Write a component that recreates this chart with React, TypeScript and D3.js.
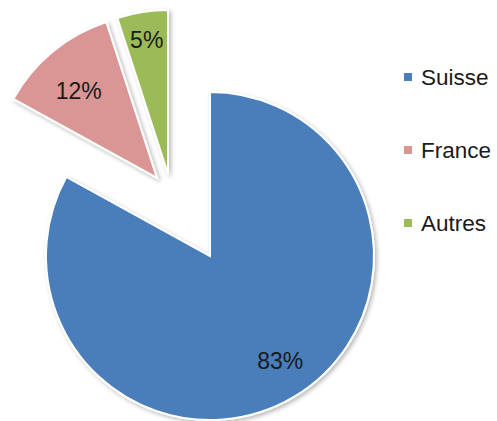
import React from "react";
import * as d3 from "d3";

const categories = ["Suisse", "France", "Autres"];
const values = [83, 12, 5];
const labels = ["83%", "12%", "5%"];
const colors = ["#4A7EBB", "#D99694", "#9BBB59"];
// per-slice translation of the slice tip (layout)
const sliceOrigins: [number, number][] = [
  [210, 256],
  [157, 178],
  [168, 174],
];
const labelRadius = [0.77, 0.71, 0.83];
const labelNudge: [number, number][] = [
  [6, -4],
  [-4, 3],
  [0, 0],
];

export default function App() {
  const W = 497;
  const H = 421;
  const R = 164;
  const pie = d3
    .pie<number>()
    .sort(null)
    .value((d) => d)
    .startAngle(0)
    .endAngle(2 * Math.PI);
  const arcs = pie(values);
  const arc = d3.arc<d3.PieArcDatum<number>>().innerRadius(0).outerRadius(R);

  const legendY = d3.scalePoint<string>().domain(categories).range([77, 223]);

  return (
    <svg
      width={W}
      height={H}
      style={{ position: "absolute", left: 0, top: 0, background: "#fff" }}
      fontFamily="'Liberation Sans', Arial, sans-serif"
    >
      <defs>
        <filter id="sh" x="-20%" y="-20%" width="140%" height="140%">
          <feDropShadow dx="2" dy="2" stdDeviation="2" floodColor="#000" floodOpacity="0.28" />
        </filter>
      </defs>
      {arcs.map((a, i) => {
        const [ox, oy] = sliceOrigins[i];
        const c = d3
          .arc<d3.PieArcDatum<number>>()
          .innerRadius(0)
          .outerRadius(R * labelRadius[i] * 2)
          .centroid(a);
        return (
          <g key={categories[i]} transform={`translate(${ox},${oy})`}>
            <path
              d={arc(a) || ""}
              fill={colors[i]}
              stroke="#fff"
              strokeWidth={2}
              strokeLinejoin="miter"
              filter="url(#sh)"
            />
            <text
              x={c[0] + labelNudge[i][0]}
              y={c[1] + labelNudge[i][1]}
              textAnchor="middle"
              dominantBaseline="central"
              fontSize={23}
              fill="#1a1a1a"
            >
              {labels[i]}
            </text>
          </g>
        );
      })}
      {categories.map((cat, i) => (
        <g key={cat} transform={`translate(404,${legendY(cat)})`}>
          <rect x={0} y={-4} width={8} height={8} fill={colors[i]} />
          <text x={17} y={0} dominantBaseline="central" fontSize={22.5} fill="#1a1a1a">
            {cat}
          </text>
        </g>
      ))}
    </svg>
  );
}
